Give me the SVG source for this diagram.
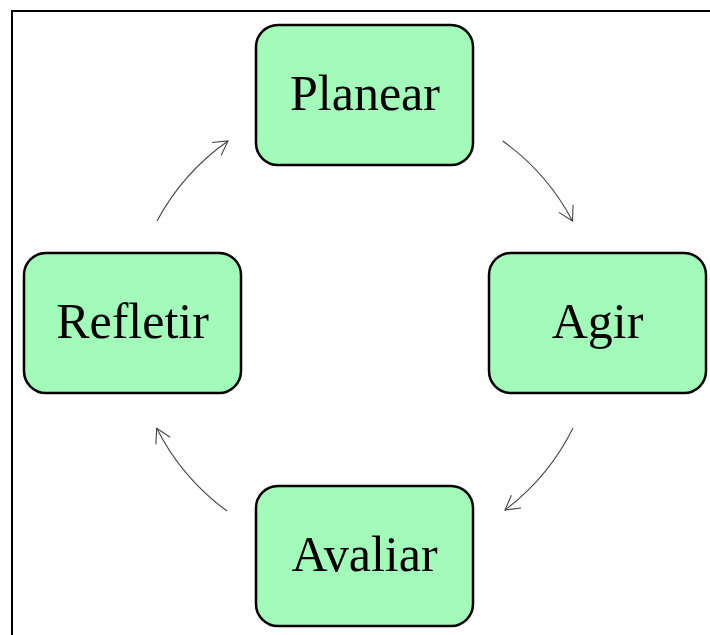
<svg xmlns="http://www.w3.org/2000/svg" width="710" height="635" viewBox="0 0 710 635">
  <style>
    .node rect { fill: #a2fbb8; stroke: #000; stroke-width: 2.5; }
    .node text { font-family: "Liberation Serif", "Times New Roman", serif; font-size: 50px; fill: #000; text-anchor: middle; }
    .edge { fill: none; stroke: #444; stroke-width: 1.1; marker-end: url(#arrow); }
  </style>
  <defs>
    <marker id="arrow" markerUnits="userSpaceOnUse" markerWidth="30" markerHeight="30" refX="0" refY="0" viewBox="-20 -15 30 30" orient="auto" overflow="visible">
      <path d="M -14 -8 L 0 0 L -14 8" fill="none" stroke="#444" stroke-width="1.1"/>
    </marker>
  </defs>
  <rect x="12" y="11" width="720" height="650" fill="#fff" stroke="#000" stroke-width="2"/>
  <g id="connectors">
    <path class="edge" d="M 502.7 141 A 231 231 0 0 1 572.5 221"/>
    <path class="edge" d="M 573 428 A 231 231 0 0 1 505 510"/>
    <path class="edge" d="M 227 511 A 231 231 0 0 1 156.7 428.3"/>
    <path class="edge" d="M 157 221 A 231 231 0 0 1 228 141"/>
  </g>
  <g id="planear" class="node">
    <rect x="256" y="25" width="217" height="140" rx="22" ry="22"/>
    <text x="365" y="110">Planear</text>
  </g>
  <g id="agir" class="node">
    <rect x="489" y="253" width="217" height="140" rx="22" ry="22"/>
    <text x="597.5" y="338">Agir</text>
  </g>
  <g id="avaliar" class="node">
    <rect x="256" y="486" width="217" height="140" rx="22" ry="22"/>
    <text x="364.5" y="571">Avaliar</text>
  </g>
  <g id="refletir" class="node">
    <rect x="24" y="253" width="217" height="140" rx="22" ry="22"/>
    <text x="132.5" y="338">Refletir</text>
  </g>
</svg>
